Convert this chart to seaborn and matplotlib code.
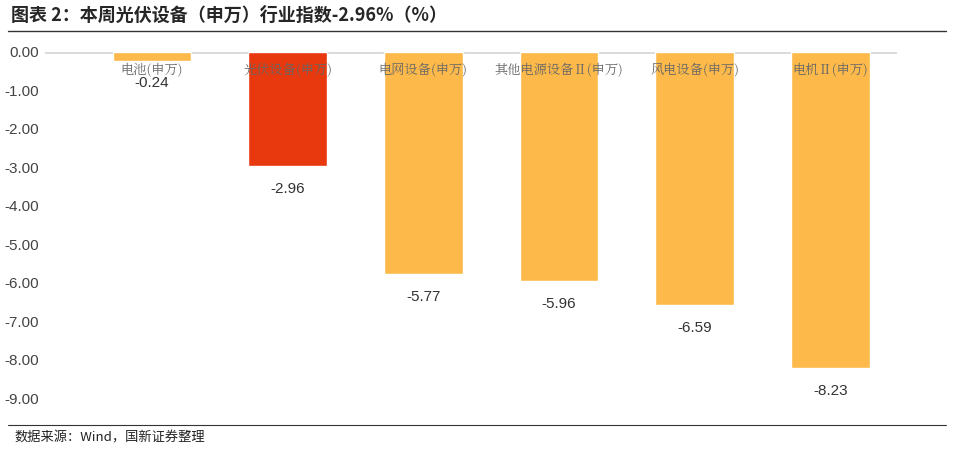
import matplotlib
matplotlib.use("Agg")
import matplotlib.pyplot as plt
import seaborn as sns
import pandas as pd

categories = ["电池(申万)", "光伏设备(申万)", "电网设备(申万)", "其他电源设备Ⅱ(申万)", "风电设备(申万)", "电机Ⅱ(申万)"]
values = [-0.24, -2.96, -5.77, -5.96, -6.59, -8.23]
colors = ["#FDBA4A", "#E8380D", "#FDBA4A", "#FDBA4A", "#FDBA4A", "#FDBA4A"]
yticks = [0, -1, -2, -3, -4, -5, -6, -7, -8, -9]

sns.set_theme(style="white")
plt.rcParams['font.family'] = ['Noto Sans CJK SC', 'DejaVu Sans']

df = pd.DataFrame({"cat": categories, "val": values})
fig = plt.figure(figsize=(9.54, 4.51), dpi=100)
ax = fig.add_axes([0.047, 0.1175, 0.893, 0.7675])
sns.barplot(data=df, x="cat", y="val", hue="cat", palette=colors, legend=False, width=0.58, ax=ax, saturation=1)
ax.set_xlim(-0.79, 5.49)
ax.set_ylim(-9, 0)
ax.set_yticks(yticks)
ax.set_yticklabels([f"{v:.2f}" for v in yticks], fontsize=11, color="#444444", family="Liberation Sans")
ax.set_xticks([])
ax.set_xlabel(""); ax.set_ylabel("")
for s in ax.spines.values():
    s.set_visible(False)
ax.axhline(0, color="#d9d9d9", lw=2, zorder=0)
ax.tick_params(axis="y", length=0, pad=4)
for i, (c, v) in enumerate(zip(categories, values)):
    ax.text(i, -0.48, c, ha="center", va="center", fontsize=9.5, color="#666666", family=["Noto Serif CJK SC", "Noto Sans CJK SC", "DejaVu Sans"])
    y = -0.8 if i == 0 else v - 0.6
    ax.text(i, y, f"{v:.2f}", ha="center", va="center", fontsize=11, color="#333333", family="Liberation Sans")
fig.text(0.012, 0.965, "图表 2：本周光伏设备（申万）行业指数-2.96%（%）", fontsize=13, fontweight="bold", style="italic", va="center")
fig.add_artist(plt.Line2D([0.008, 0.992], [0.932, 0.932], color="#333333", lw=1))
fig.add_artist(plt.Line2D([0.008, 0.992], [0.058, 0.058], color="#333333", lw=0.8))
fig.text(0.015, 0.028, "数据来源：Wind，国新证券整理", fontsize=9.5, va="center", color="#222222")
fig.savefig("out.png", dpi=100)
